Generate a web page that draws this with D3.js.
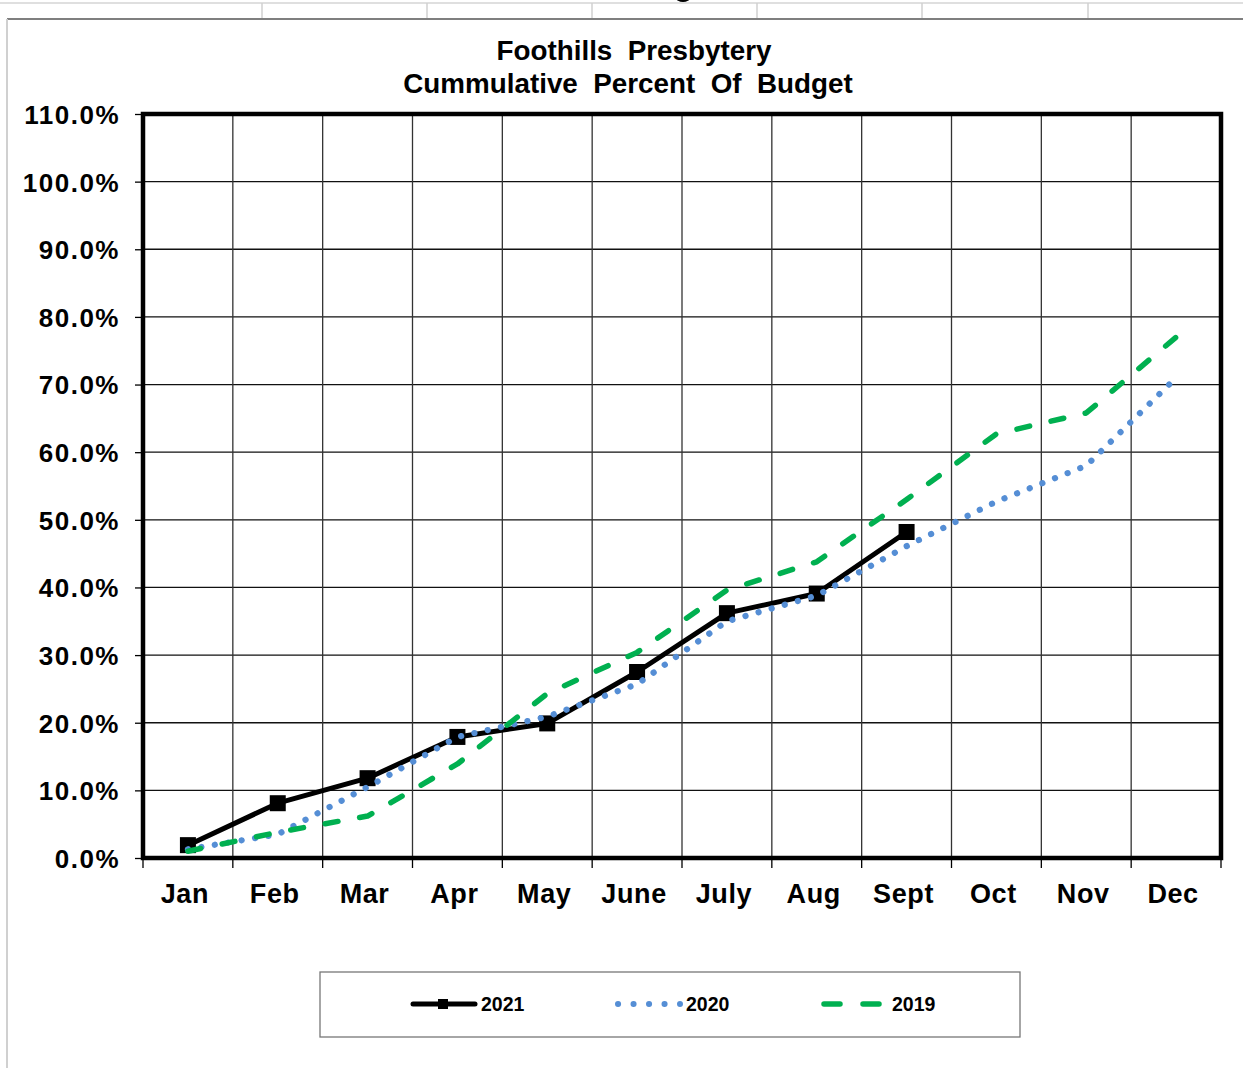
<!DOCTYPE html>
<html>
<head>
<meta charset="utf-8">
<script src="https://cdn.jsdelivr.net/npm/d3@7"></script>
<style>
  html, body { margin: 0; padding: 0; background: #fff; }
  svg { display: block; font-family: "Liberation Sans", Arial, sans-serif; }
</style>
</head>
<body>
<svg id="chart" width="1243" height="1068"></svg>
<script>
const months = ["Jan","Feb","Mar","Apr","May","June","July","Aug","Sept","Oct","Nov","Dec"];
const yTicks = [0, 10, 20, 30, 40, 50, 60, 70, 80, 90, 100, 110];
const values2021 = [1.9, 8.1, 11.8, 17.9, 19.9, 27.5, 36.2, 39.1, 48.2];
const values2020 = [1.3, 3.5, 10.5, 17.9, 20.9, 25.7, 35.0, 38.8, 46.1, 52.7, 58.0, 71.0];
const values2019 = [1.0, 3.8, 6.2, 13.9, 24.3, 30.4, 39.6, 43.8, 53.0, 62.7, 65.8, 77.0];
const titleLines = ["Foothills  Presbytery", "Cummulative  Percent  Of  Budget"];
const legendNames = ["2021", "2020", "2019"];

const svg = d3.select("#chart");
const L = 143, R = 1221, T = 114, B = 858;

// spreadsheet background lines
const bg = svg.append("g");
bg.append("line").attr("x1", 0).attr("x2", 1243).attr("y1", 3).attr("y2", 3).attr("stroke", "#d4d4d4").attr("stroke-width", 1.5);
[262, 427, 592, 757, 922, 1088].forEach(x => {
  bg.append("line").attr("x1", x).attr("x2", x).attr("y1", 3).attr("y2", 18).attr("stroke", "#d0d0d0").attr("stroke-width", 1.5);
});
bg.append("line").attr("x1", 7).attr("x2", 1243).attr("y1", 19).attr("y2", 19).attr("stroke", "#555").attr("stroke-width", 1.5);
bg.append("line").attr("x1", 7).attr("x2", 7).attr("y1", 19).attr("y2", 1068).attr("stroke", "#d0d0d0").attr("stroke-width", 2);
bg.append("ellipse").attr("cx", 683).attr("cy", -2).attr("rx", 7).attr("ry", 4).attr("fill", "#000");

const x = d3.scaleBand().domain(months).range([L, R]).paddingInner(0).paddingOuter(0);
const xc = m => x(m) + x.bandwidth() / 2;
const y = d3.scaleLinear().domain([0, 110]).range([B, T]);

// gridlines
const grid = svg.append("g");
grid.selectAll("line.h").data(yTicks.slice(1, -1)).join("line")
  .attr("x1", L).attr("x2", R).attr("y1", d => y(d)).attr("y2", d => y(d))
  .attr("stroke", "#111").attr("stroke-width", 1.3);
grid.selectAll("line.v").data(months.slice(1)).join("line")
  .attr("x1", d => x(d)).attr("x2", d => x(d)).attr("y1", T).attr("y2", B)
  .attr("stroke", "#333").attr("stroke-width", 1.3);

// y axis ticks + labels
const yAxis = d3.axisLeft(y).tickValues(yTicks).tickSize(8).tickPadding(15)
  .tickFormat(d => d.toFixed(1) + "%");
const gy = svg.append("g").attr("transform", `translate(${L},0)`).call(yAxis);
gy.select(".domain").remove();
gy.selectAll(".tick line").attr("stroke", "#000").attr("stroke-width", 1.3);
gy.selectAll(".tick text").attr("font-size", 26).attr("font-weight", "bold").attr("fill", "#000")
  .attr("letter-spacing", 1.5).attr("dy", "0.36em");

// x axis ticks at boundaries
const boundaries = months.map(m => x(m)).concat([R]);
svg.append("g").selectAll("line").data(boundaries).join("line")
  .attr("x1", d => d).attr("x2", d => d).attr("y1", B).attr("y2", B + 10)
  .attr("stroke", "#000").attr("stroke-width", 1.3);
svg.append("g").selectAll("text").data(months).join("text")
  .attr("x", d => xc(d) - 3).attr("y", 903)
  .attr("text-anchor", "middle").attr("font-size", 27).attr("font-weight", "bold")
  .attr("letter-spacing", 0.6).attr("fill", "#000").text(d => d);

// plot border
svg.append("rect").attr("x", L).attr("y", T).attr("width", R - L).attr("height", B - T)
  .attr("fill", "none").attr("stroke", "#000").attr("stroke-width", 4.5);

// series
const line = d3.line().x((d, i) => xc(months[i])).y(d => y(d));

svg.append("path").datum(values2021).attr("d", line)
  .attr("fill", "none").attr("stroke", "#000").attr("stroke-width", 5).attr("stroke-linejoin", "round");
svg.append("g").selectAll("rect").data(values2021).join("rect")
  .attr("x", (d, i) => xc(months[i]) - 8).attr("y", d => y(d) - 8)
  .attr("width", 16).attr("height", 16).attr("fill", "#000");

svg.append("path").datum(values2020).attr("d", line)
  .attr("fill", "none").attr("stroke", "#558ED5").attr("stroke-width", 6.2)
  .attr("stroke-linecap", "round").attr("stroke-dasharray", "0.1 13.5");

svg.append("path").datum(values2019).attr("d", line)
  .attr("fill", "none").attr("stroke", "#00B050").attr("stroke-width", 5.5)
  .attr("stroke-linecap", "round").attr("stroke-linejoin", "round").attr("stroke-dasharray", "13 22");

// title
const titleX = [634, 628];
svg.append("g").selectAll("text").data(titleLines).join("text")
  .attr("x", (d, i) => titleX[i]).attr("y", (d, i) => 60 + i * 33)
  .attr("text-anchor", "middle").attr("font-size", 27.8).attr("font-weight", "bold")
  .attr("fill", "#000").attr("xml:space", "preserve").style("white-space", "pre").text(d => d);

// legend
const lg = svg.append("g");
lg.append("rect").attr("x", 320).attr("y", 972).attr("width", 700).attr("height", 65)
  .attr("fill", "#fff").attr("stroke", "#777").attr("stroke-width", 1.3);
const ly = 1004;
lg.append("line").attr("x1", 413).attr("x2", 475).attr("y1", ly).attr("y2", ly)
  .attr("stroke", "#000").attr("stroke-width", 5).attr("stroke-linecap", "round");
lg.append("rect").attr("x", 438).attr("y", ly - 5).attr("width", 10).attr("height", 10).attr("fill", "#000");
lg.append("line").attr("x1", 618).attr("x2", 680).attr("y1", ly).attr("y2", ly)
  .attr("stroke", "#558ED5").attr("stroke-width", 6).attr("stroke-linecap", "round").attr("stroke-dasharray", "0.1 15.4");
lg.append("line").attr("x1", 824).attr("x2", 880).attr("y1", ly).attr("y2", ly)
  .attr("stroke", "#00B050").attr("stroke-width", 5.5).attr("stroke-linecap", "round").attr("stroke-dasharray", "16 23");
const lx = [481, 686, 892];
lg.selectAll("text").data(legendNames).join("text")
  .attr("x", (d, i) => lx[i]).attr("y", ly + 7)
  .attr("font-size", 19.5).attr("font-weight", "bold").attr("fill", "#000").text(d => d);
</script>
</body>
</html>
